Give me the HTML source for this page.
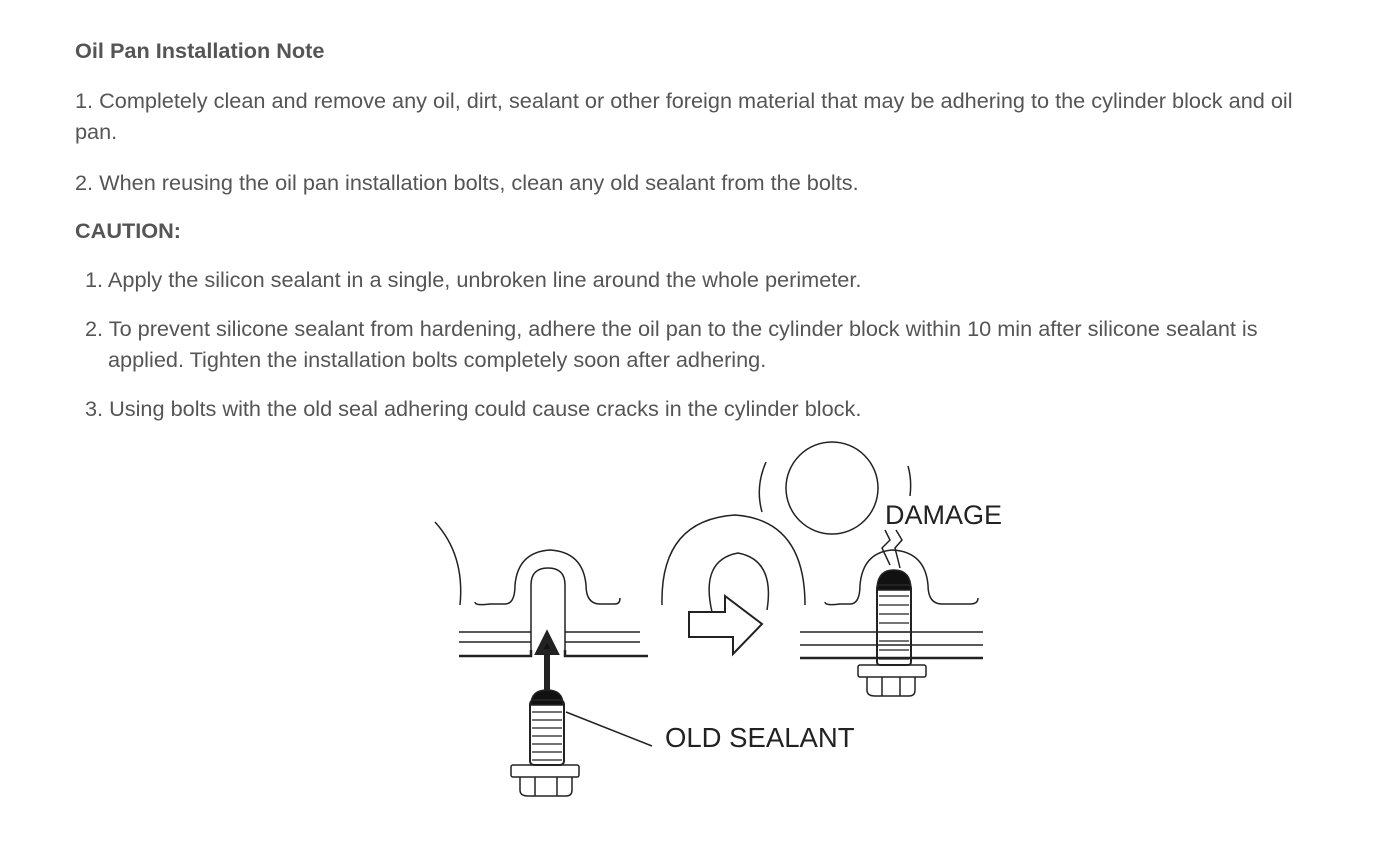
<!DOCTYPE html>
<html><head><meta charset="utf-8"><style>
body{margin:0;background:#fff;width:1395px;height:851px;position:relative;overflow:hidden;font-family:"Liberation Sans",Arial,sans-serif;color:#555;font-size:21.7px}
.t{position:absolute;left:75px;white-space:nowrap}
b{font-weight:bold}
</style></head><body>
<div class="t" style="top:38px"><b>Oil Pan Installation Note</b></div>
<div class="t" style="top:88px">1. Completely clean and remove any oil, dirt, sealant or other foreign material that may be adhering to the cylinder block and oil</div>
<div class="t" style="top:119px">pan.</div>
<div class="t" style="top:170px">2. When reusing the oil pan installation bolts, clean any old sealant from the bolts.</div>
<div class="t" style="top:218px"><b>CAUTION:</b></div>
<div class="t" style="top:267px;left:85px">1. Apply the silicon sealant in a single, unbroken line around the whole perimeter.</div>
<div class="t" style="top:316px;left:85px">2. To prevent silicone sealant from hardening, adhere the oil pan to the cylinder block within 10 min after silicone sealant is</div>
<div class="t" style="top:347px;left:108px">applied. Tighten the installation bolts completely soon after adhering.</div>
<div class="t" style="top:396px;left:85px">3. Using bolts with the old seal adhering could cause cracks in the cylinder block.</div>
<svg width="1395" height="851" style="position:absolute;left:0;top:0" fill="none" stroke="#222" stroke-width="1.5">
<path d="M435 522 Q465 555 460 605"/>
<path d="M475 602 Q475 606 490 604 L505 604 Q515 604 515 585 Q518 552 550 550 Q583 552 586 585 Q586 604 600 604 L615 604 Q620 604 620 598"/>
<path d="M531 650 L531 585 Q531 568 548 568 Q565 568 565 585 L565 650"/>
<path d="M459 632 L531 632 M565 632 L640 632 M459 642 L531 642 M565 642 L640 642"/>
<path d="M459 656 L531 656 L531 650 M565 650 L565 656 L648 656" stroke-width="2.5"/>
<path d="M547 695 L547 650 M539 652 L547 636 L555 652 Z" stroke-width="6" fill="#111"/>
<path d="M531 705 Q531 690 547 690 Q563 690 563 705 Z" fill="#111"/>
<rect x="530" y="700" width="34" height="65" rx="4" stroke-width="2"/>
<g stroke-width="1.3"><path d="M532 712h30M532 720h30M532 728h30M532 736h30M532 744h30M532 752h30M532 760h30"/></g>
<rect x="511" y="765" width="68" height="12" rx="2"/>
<path d="M520 777 L520 790 Q520 796 528 796 L566 796 Q572 796 572 790 L572 777 M535 777 L535 796 M557 777 L557 796"/>
<path d="M566 712 L652 746"/>
<path d="M662 605 Q660 520 735 515 Q805 520 805 605"/>
<path d="M712 612 Q700 560 738 553 Q775 560 767 610"/>
<path d="M689 612 L725 612 L725 596 L762 624 L733 654 L733 637 L689 637 Z" stroke-width="2"/>
<circle cx="832" cy="488" r="46"/>
<path d="M766 462 Q755 487 762 512 M908 466 Q912 480 910 496"/>
<path d="M825 602 Q825 606 840 604 L850 604 Q860 604 860 585 Q863 552 893 550 Q925 552 928 585 Q928 604 942 604 L970 604 Q978 604 978 598"/>
<path d="M885 530 L890 540 L882 548 L890 565 M896 530 L902 540 L895 548 L900 568"/>
<path d="M877 590 Q877 570 894 570 Q911 570 911 590 Z" fill="#111"/>
<rect x="877" y="585" width="34" height="80" rx="3" stroke-width="2"/>
<g stroke-width="1.3"><path d="M879 596h30M879 605h30M879 614h30M879 623h30M879 632h30M879 641h30M879 650h30M879 659h30"/></g>
<path d="M800 632 L983 632 M800 645 L983 645"/>
<path d="M800 658 L983 658" stroke-width="2.5"/>
<rect x="858" y="665" width="68" height="12" rx="2"/>
<path d="M867 677 L867 690 Q867 696 875 696 L909 696 Q915 696 915 690 L915 677 M882 677 L882 696 M900 677 L900 696"/>
<text x="665" y="747" fill="#222" stroke="none" font-family="Liberation Sans,Arial,sans-serif" font-size="27.5">OLD SEALANT</text>
<text x="885" y="524" fill="#222" stroke="none" font-family="Liberation Sans,Arial,sans-serif" font-size="27">DAMAGE</text>
</svg>
</body></html>
